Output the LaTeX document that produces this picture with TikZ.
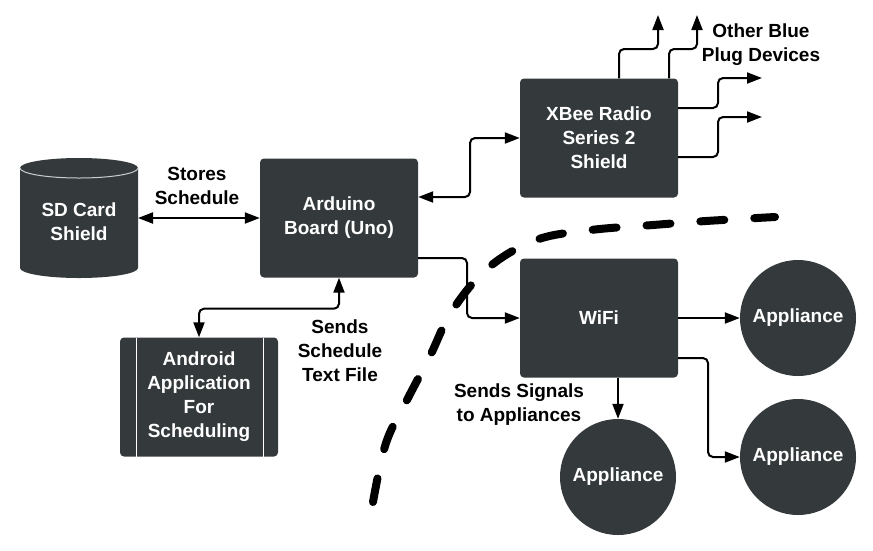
\documentclass[tikz,border=0pt]{standalone}
\usepackage{fontspec}
\setmainfont{Liberation Sans}
\usetikzlibrary{arrows.meta,calc}
\definecolor{boxgray}{RGB}{52,58,59}
\begin{document}
\begin{tikzpicture}[x=1pt,y=-1pt,
  txt/.style={font=\bfseries\fontsize{19}{24}\selectfont, align=center},
  darkbox/.style={txt, fill=boxgray, text=white, rounded corners=4pt, minimum width=158pt, minimum height=119pt, inner sep=0pt},
  appl/.style={txt, circle, fill=boxgray, text=white, minimum size=116pt, inner sep=0pt},
  lbl/.style={txt, text=black},
  arr/.style={line width=2pt, rounded corners=5pt, -{Triangle[length=15pt,width=11pt]}},
  darr/.style={line width=2pt, rounded corners=5pt, {Triangle[length=15pt,width=11pt]}-{Triangle[length=15pt,width=11pt]}},
  dashcurve/.style={line width=8pt, line cap=round, dash pattern=on 24pt off 30pt}
]
\useasboundingbox (0,0) rectangle (873,550);

% SD card cylinder
\fill[boxgray] (20,168) -- (20,268) arc[start angle=180, end angle=0, x radius=59, y radius=10]
  -- (138,168) arc[start angle=0, end angle=-180, x radius=59, y radius=10] -- cycle;
\draw[white!75!boxgray, line width=1pt] (20,168) arc[start angle=180, end angle=0, x radius=59, y radius=10];
\coordinate (sd) at (79,218);
\coordinate (sdeast) at (138,218);
\node[txt, text=white] (sdtext) at (79,222) {SD Card\\Shield};

% boxes
\node[darkbox] (arduino) at (339,218) {Arduino\\Board (Uno)};
\node[darkbox] (xbee) at (599,138) {XBee Radio\\Series 2\\Shield};
\node[darkbox] (wifi) at (599,318) {WiFi};
\node[darkbox] (android) at (199,397) {Android\\Application\\For\\Scheduling};
\draw[white, line width=1pt] (136,338) -- (136,457) (263,338) -- (263,457);

% appliances
\node[appl] (app1) at (798,318) {Appliance};
\node[appl] (app2) at (798,457) {Appliance};
\node[appl] (app3) at (618,477) {Appliance};

% labels
\node[lbl] (lstores) at (197,186) {Stores\\Schedule};
\node[lbl] (lsends) at (340,351) {Sends\\Schedule\\Text File};
\node[lbl] (lother) at (761,45) {Other Blue\\Plug Devices};
\node[lbl] (lsignals) at (519,405) {Sends Signals\\to Appliances};

% free ends
\coordinate (o1) at (658,15);
\coordinate (o2) at (697,15);
\coordinate (o3) at (762,78);
\coordinate (o4) at (762,117);

% connectors
\draw[darr] (sdeast) -- (arduino.west |- 0,218);
\draw[darr] (arduino.south) -- ++(0,31) -| (android.north);
\draw[darr] (arduino.east |- 0,197) -- (470,197) |- (xbee.west);
\draw[arr] (arduino.east |- 0,258) -- (467,258) |- (wifi.west);
\draw[arr] (xbee.north -| 619,0) -- (619,49) -| (o1);
\draw[arr] (xbee.north -| 669,0) -- (669,49) -| (o2);
\draw[arr] (xbee.east |- 0,108) -- (718,108) |- (o3);
\draw[arr] (xbee.east |- 0,157) -- (718,157) |- (o4);
\draw[arr] (wifi.east) -- (app1.west);
\draw[arr] (wifi.east |- 0,358) -- (708,358) |- (app2.west);
\draw[arr] (app3.north |- wifi.south) -- (app3.north);

% dashed boundary
\draw[dashcurve] plot[smooth, tension=0.6] coordinates {(373,502) (386,443) (407,400) (430,356) (452,311) (488,268) (536,240) (591,230) (653,225) (706,221) (775,217)};
\end{tikzpicture}
\end{document}
